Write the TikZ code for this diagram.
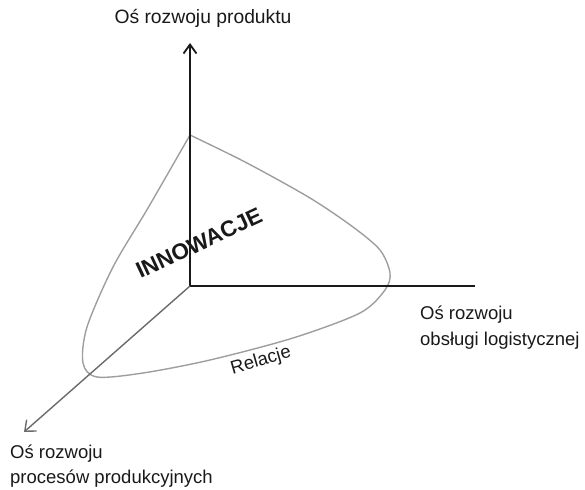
\documentclass[tikz,border=0pt]{standalone}
\usepackage{fontspec}
\setmainfont{Liberation Sans}
\usetikzlibrary{arrows.meta}
\begin{document}
\begin{tikzpicture}[x=1pt,y=-1pt,
  axis/.style={draw=black!90, line width=1.8pt},
  daxis/.style={draw=black!58, line width=1.4pt},
  curve/.style={draw=black!38, line width=1.4pt},
  lbl/.style={inner sep=0pt, font=\fontsize{18.5}{26}\selectfont, text=black!90},
  big/.style={inner sep=0pt, font=\bfseries\fontsize{22.5}{24}\selectfont, text=black!90}]
\useasboundingbox (0,0) rectangle (585,489);
\coordinate (O) at (190,286);
\coordinate (Ytip) at (190,43);
\coordinate (Xend) at (475,286);
\coordinate (Ztip) at (24,432);
% curve
\draw[curve] plot[smooth, tension=0.5] coordinates {
  (190,135) (247,163) (310,198) (353,227) (380,250) (390,273) (385,290)
  (360,313) (293,338) (210,360) (143,373) (97,377) (83,363) (87,327)
  (113,267) (148,208) (190,135)};
% axes
\draw[axis, -{Straight Barb[length=9pt,width=13pt]}] (O) -- (Ytip);
\draw[axis] (O) -- (Xend);
\draw[daxis, -{Straight Barb[length=9pt,width=15pt]}] (O) -- (Ztip);
% labels
\node[lbl, anchor=base, font=\fontsize{19.3}{26}\selectfont] (ly) at (203,24) {Oś rozwoju produktu};
\node[lbl, anchor=base west] (lx1) at (420,319) {Oś rozwoju};
\node[lbl, anchor=base west] (lx2) at (420,345) {obsługi logistycznej};
\node[lbl, anchor=base west] (lz1) at (10,458) {Oś rozwoju};
\node[lbl, anchor=base west] (lz2) at (10,483) {procesów produkcyjnych};
\node[big, rotate=25] (inn) at (199,243) {INNOWACJE};
\node[lbl, rotate=16] (rel) at (261,361) {Relacje};
\end{tikzpicture}
\end{document}
